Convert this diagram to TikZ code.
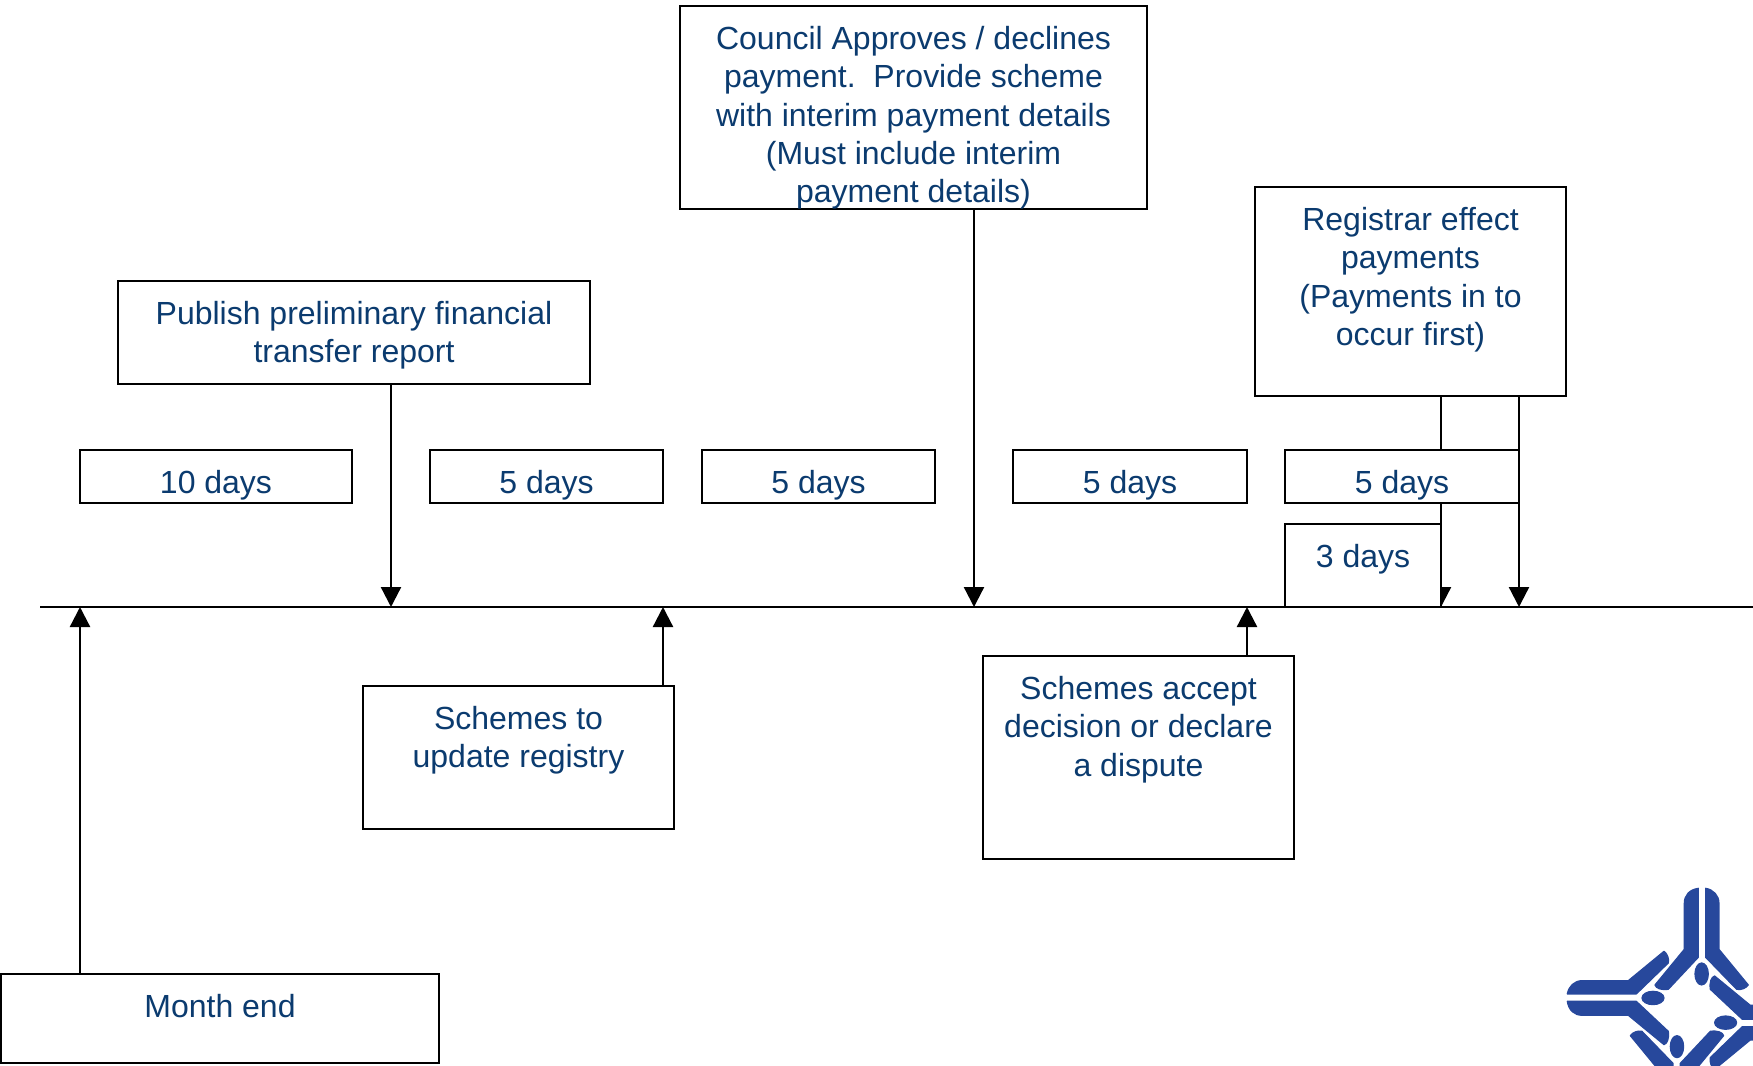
\documentclass[tikz,border=0pt]{standalone}
\usepackage{fontspec}
\setmainfont{Liberation Sans}
\usetikzlibrary{arrows.meta}
\definecolor{txtblue}{HTML}{0B3B6F}
\definecolor{logoblue}{HTML}{27489C}
\newdimen\pxu \pxu=0.5pt
\newcommand{\bx}[3]{\parbox[c][#2\pxu][t]{#1\pxu}{\centering\rule{0pt}{21.6pt}#3\par}}
\tikzset{
  box/.style={draw=black,fill=white,line width=1.15pt,anchor=north west,inner sep=0pt,outer sep=0pt,
    text=txtblue,font=\fontsize{16pt}{19.2pt}\selectfont},
  arr/.style={draw=black,line width=1.15pt,-{Triangle[length=10pt,width=10pt]}},
  tline/.style={draw=black,line width=1.15pt},
  logopart/.style={fill=logoblue,draw=logoblue,line width=0.6pt,line join=round}
}
\begin{document}
\begin{tikzpicture}[x=0.5pt,y=-0.5pt]
\useasboundingbox (0,0) rectangle (1753,1066);
% timeline points
\coordinate (tstart) at (40,607);
\coordinate (tend) at (1753,607);
\coordinate (tmonth) at (80,607);
\coordinate (tpub) at (391,607);
\coordinate (tsch) at (663,607);
\coordinate (tcou) at (974,607);
\coordinate (tacc) at (1247,607);
\coordinate (treg) at (1441,607);
\coordinate (tpay) at (1519,607);
\draw[tline] (tstart) -- (tend);
% source boxes
\node[box] (council) at (680,6) {\bx{467}{203}{Council Approves / declines\\payment.\ \ Provide scheme\\with interim payment details\\(Must include interim\\payment details)}};
\node[box] (registrar) at (1255,187) {\bx{311}{209}{Registrar effect\\payments\\(Payments in to\\occur first)}};
\node[box] (publish) at (118,281) {\bx{472}{103}{Publish preliminary financial\\transfer report}};
\node[box] (update) at (363,686) {\bx{311}{143}{Schemes to\\update registry}};
\node[box] (accept) at (983,656) {\bx{311}{203}{Schemes accept\\decision or declare\\a dispute}};
\node[box] (month) at (1,974) {\bx{438}{89}{Month end}};
% connectors
\draw[arr] (publish.south -| tpub) -- (tpub);
\draw[arr] (council.south -| tcou) -- (tcou);
\draw[arr] (registrar.south -| treg) -- (treg);
\draw[arr] (registrar.south -| tpay) -- (tpay);
\draw[arr] (update.north -| tsch) -- (tsch);
\draw[arr] (accept.north -| tacc) -- (tacc);
\draw[arr] (month.north -| tmonth) -- (tmonth);
% duration boxes
\node[box] (d10) at (80,450) {\bx{272}{53}{10 days}};
\node[box] (d5a) at (430,450) {\bx{233}{53}{5 days}};
\node[box] (d5b) at (702,450) {\bx{233}{53}{5 days}};
\node[box] (d5c) at (1013,450) {\bx{234}{53}{5 days}};
\node[box] (d5d) at (1285,450) {\bx{234}{53}{5 days}};
\node[box] (d3) at (1285,524) {\bx{156}{83}{3 days}};
% logo
\begin{scope}
\clip (0,0) rectangle (1753,1066);
\foreach \a in {0,90,180,270}{
\begin{scope}[shift={(1689.3,1010.3)},x=0.16667pt,y=0.16667pt,rotate=\a]
\path[logopart] (27,366) .. controls (0,362) and (-15,345) .. (-15,321) -- (-15,183) -- (-103,76)
  .. controls (-100,66) and (-85,60) .. (-63,63) -- (27,159) -- cycle;
\path[logopart] (49,366) .. controls (72,362) and (89,345) .. (89,321) -- (89,183) -- (177,76)
  .. controls (170,66) and (155,60) .. (142,63) -- (49,159) -- cycle;
\path[logopart] (37,109) ellipse [x radius=20,y radius=33];
\end{scope}}
\end{scope}
\end{tikzpicture}
\end{document}
